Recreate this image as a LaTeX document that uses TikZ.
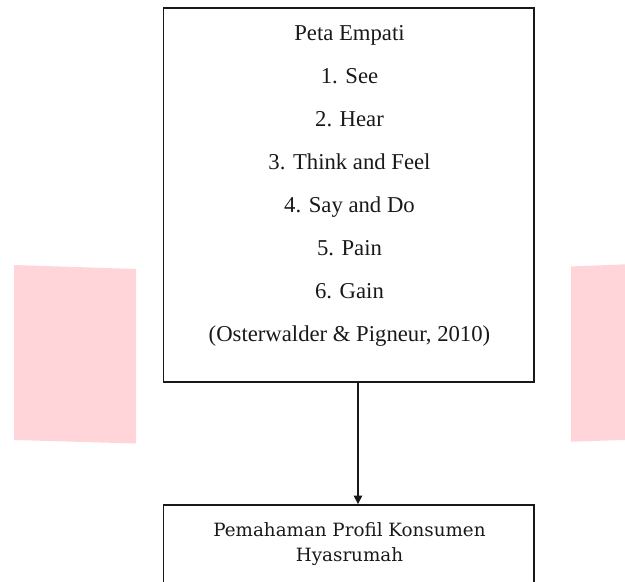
\documentclass[tikz,border=0pt]{standalone}
\usepackage{fontspec}
\setmainfont{Liberation Serif}
\newfontfamily\profont{DejaVu Serif}
\usetikzlibrary{arrows.meta}
\definecolor{wmpink}{RGB}{255,213,218}
\definecolor{ink}{RGB}{25,25,25}
\tikzset{
  boxframe/.style={draw=ink, line width=1.8pt, inner sep=0pt},
  itemtext/.style={anchor=base, inner sep=0pt, text=ink, font=\fontsize{22.7}{26}\selectfont},
  protext/.style={anchor=base, inner sep=0pt, text=ink, font=\profont\fontsize{18.3}{22}\selectfont},
  arr/.style={draw=ink, line width=1.1pt, -{Triangle[length=8.5pt,width=8.5pt]}},
  wm/.style={fill=wmpink, draw=none}
}
\begin{document}
\begin{tikzpicture}[x=1pt,y=-1pt]
\useasboundingbox (0,0) rectangle (625,582);
\clip (0,0) rectangle (625,582);
% watermark shapes
\fill[wm] (14,265) -- (136,269) -- (136,443.5) -- (14,440) -- cycle;
\fill[wm] (571,266.5) -- (626,264.3) -- (626,439.9) -- (571,441.7) -- cycle;
% boxes
\node[boxframe, minimum width=370.6pt, minimum height=373.8pt] (emp) at (348.7,195.1) {};
\node[boxframe, minimum width=370.6pt, minimum height=120pt] (prof) at (348.7,565) {};
% texts
\node[itemtext] (t0) at (349.5,40) {Peta Empati};
\node[itemtext] (t1) at (349.5,83) {1. See};
\node[itemtext] (t2) at (349.5,126) {2. Hear};
\node[itemtext] (t3) at (349.5,169) {3. Think and Feel};
\node[itemtext] (t4) at (349.5,212) {4. Say and Do};
\node[itemtext] (t5) at (349.5,255) {5. Pain};
\node[itemtext] (t6) at (349.5,298) {6. Gain};
\node[itemtext] (t7) at (349.5,341) {(Osterwalder \& Pigneur, 2010)};
\node[protext] (p1) at (349.5,536.7) {Pemahaman Profil Konsumen};
\node[protext] (p2) at (349.5,561.7) {Hyasrumah};
% connector
\coordinate (ax) at (358,0);
\draw[arr] (emp.south -| ax) -- (prof.north -| ax);
\end{tikzpicture}
\end{document}
